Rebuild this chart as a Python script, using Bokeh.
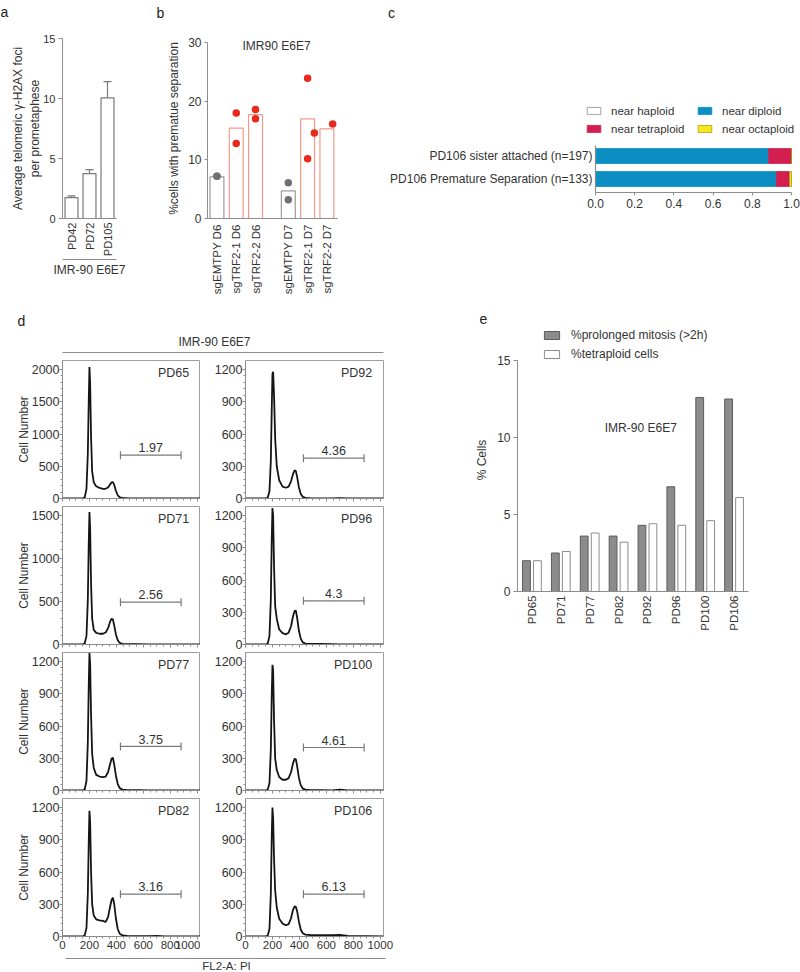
import math
from bokeh.plotting import figure
from bokeh.models import (Range1d, FixedTicker, LinearAxis, Label, Legend, LegendItem,
                          ColumnDataSource, Whisker, TeeHead, PrintfTickFormatter)
from bokeh.layouts import row, column
from bokeh.embed import file_html
from bokeh.resources import INLINE

# ---------------- data ----------------
# panel a
a_labels = ["PD42", "PD72", "PD105"]
a_means = [1.74, 3.74, 10.05]
a_errors = [0.14, 0.33, 1.35]

# panel b
b_labels = ["sgEMTPY D6", "sgTRF2-1 D6", "sgTRF2-2 D6", "sgEMTPY D7", "sgTRF2-1 D7", "sgTRF2-2 D7"]
b_day_group = [0, 0, 0, 1, 1, 1]
b_is_control = [True, False, False, True, False, False]
b_bar_values = [7.1, 15.4, 17.7, 4.7, 17.0, 15.3]
b_rep1 = [7.2, 18.0, 18.6, 6.1, 23.9, 14.6]
b_rep2 = [7.2, 12.8, 17.0, 3.2, 10.2, 16.1]

# panel c
c_categories = ["PD106 sister attached (n=197)", "PD106 Premature Separation (n=133)"]
near_haploid = [0.0, 0.0]
near_diploid = [0.884, 0.923]
near_tetraploid = [0.116, 0.067]
near_octaploid = [0.0, 0.010]

# panel d (flow histograms)
hist_x = [0, 150, 165, 178, 188, 195, 200, 205, 212, 220, 232, 250, 275, 300, 320,
          338, 352, 364, 374, 384, 396, 410, 425, 445, 480, 560, 640, 700, 760, 1024]
pd65_counts = [0, 0, 20, 150, 700, 1550, 2040, 1800, 950, 420, 250, 190, 165, 150, 150,
               170, 215, 250, 255, 210, 120, 50, 18, 8, 4, 3, 2, 2, 1, 0]
pd92_counts = [0, 0, 10, 70, 350, 850, 1160, 1180, 950, 560, 300, 170, 110, 100, 110,
               160, 225, 262, 255, 195, 105, 42, 15, 6, 3, 2, 2, 3, 1, 0]
pd71_counts = [0, 0, 15, 100, 520, 1200, 1540, 1350, 700, 300, 170, 135, 125, 125, 140,
               190, 260, 300, 290, 220, 120, 50, 18, 8, 4, 3, 2, 1, 1, 0]
pd96_counts = [0, 0, 10, 80, 420, 1000, 1270, 1200, 720, 360, 240, 140, 105, 95, 110,
               170, 260, 310, 315, 240, 130, 55, 20, 8, 5, 6, 4, 2, 1, 0]
pd77_counts = [0, 0, 12, 90, 450, 1000, 1280, 1180, 700, 340, 210, 145, 130, 125, 130,
               170, 240, 295, 305, 240, 140, 60, 22, 8, 4, 3, 2, 1, 1, 0]
pd100_counts = [0, 0, 10, 70, 380, 900, 1170, 1120, 650, 300, 190, 125, 100, 100, 115,
                170, 250, 295, 290, 220, 120, 50, 18, 8, 4, 3, 2, 8, 1, 0]
pd82_counts = [0, 0, 12, 80, 400, 900, 1170, 1070, 600, 300, 195, 160, 150, 145, 135,
               180, 270, 340, 360, 300, 170, 70, 25, 10, 6, 4, 3, 6, 1, 0]
pd106_counts = [0, 0, 10, 70, 400, 950, 1200, 1100, 720, 430, 270, 165, 120, 105, 115,
                170, 245, 280, 275, 230, 140, 65, 30, 18, 14, 12, 12, 16, 6, 0]
hist_names = ["PD65", "PD92", "PD71", "PD96", "PD77", "PD100", "PD82", "PD106"]
hist_counts = [pd65_counts, pd92_counts, pd71_counts, pd96_counts,
               pd77_counts, pd100_counts, pd82_counts, pd106_counts]
hist_gate_pct = ["1.97", "4.36", "2.56", "4.3", "3.75", "4.61", "3.16", "6.13"]
hist_y_top_tick = [2000, 1200, 1500, 1200, 1200, 1200, 1200, 1200]
hist_y_step = [500, 300, 500, 300, 300, 300, 300, 300]
gate_bounds = [430, 880]
gate_level = [672, 375, 492, 406, 410, 400, 394, 394]

# panel e
e_labels = ["PD65", "PD71", "PD77", "PD82", "PD92", "PD96", "PD100", "PD106"]
e_prolonged_mitosis = [2.0, 2.5, 3.6, 3.6, 4.3, 6.8, 12.6, 12.5]
e_tetraploid = [2.0, 2.6, 3.8, 3.2, 4.4, 4.3, 4.6, 6.1]

# ---------------- style ----------------
FONT = "Liberation Sans"
TXT = "#333333"
AXC = "#8c8c8c"


def base_fig(**kw):
    p = figure(output_backend="svg", toolbar_location=None, title=None, **kw)
    p.outline_line_color = None
    p.xgrid.visible = False
    p.ygrid.visible = False
    p.background_fill_color = "white"
    p.border_fill_color = "white"
    return p


def style_axis(ax, label_size="12px", tick_out=4):
    ax.axis_line_color = AXC
    ax.axis_line_width = 1
    ax.major_tick_line_color = AXC
    ax.major_tick_in = 0
    ax.major_tick_out = tick_out
    ax.minor_tick_line_color = None
    ax.major_label_text_font = FONT
    ax.major_label_text_font_size = label_size
    ax.major_label_text_color = TXT
    ax.major_label_standoff = 3
    ax.axis_label_text_font = FONT
    ax.axis_label_text_font_size = "12px"
    ax.axis_label_text_font_style = "normal"
    ax.axis_label_text_color = TXT
    ax.axis_label_standoff = 4


def strip(width, height):
    """blank figure in pixel coordinates used for panel letters / group lines"""
    return base_fig(width=width, height=height, x_range=Range1d(0, width),
                    y_range=Range1d(height, 0), x_axis_type=None, y_axis_type=None,
                    min_border=0)


def txt(p, x, y, s, size="12px", align="center", color=TXT):
    p.add_layout(Label(x=x, y=y, text=s, text_font=FONT, text_font_size=size,
                       text_color=color, text_align=align, text_baseline="middle"))


# ---------------- top letters strip ----------------
top_strip = strip(800, 22)
txt(top_strip, 4, 11, "a", size="14px", color="#222222")
txt(top_strip, 160, 12, "b", size="14px", color="#222222")
txt(top_strip, 391, 12, "c", size="14px", color="#222222")

# ---------------- panel a ----------------
a_pos = list(range(len(a_labels)))
fa = base_fig(width=140, height=288, x_range=Range1d(-0.5, 2.5), y_range=Range1d(0, 15),
              min_border_left=62, min_border_right=24, min_border_top=16, min_border_bottom=92)
src_a = ColumnDataSource(dict(x=a_pos, top=a_means,
                              upper=[m + e for m, e in zip(a_means, a_errors)]))
fa.vbar(x="x", top="top", width=0.72, source=src_a, fill_color="white",
        line_color="#7a7a7a", line_width=1.2)
fa.add_layout(Whisker(base="x", lower="top", upper="upper", source=src_a,
                      line_color="#7a7a7a", line_width=1.2,
                      upper_head=TeeHead(size=8, line_color="#7a7a7a", line_width=1.2),
                      lower_head=None))
style_axis(fa.yaxis[0], label_size="11px")
fa.yaxis.ticker = FixedTicker(ticks=[0, 5, 10, 15])
fa.yaxis.axis_label = "Average telomeric γ-H2AX foci\nper prometaphese"
fa.yaxis.axis_label_standoff = -2
style_axis(fa.xaxis[0], label_size="11px", tick_out=0)
fa.xaxis.ticker = FixedTicker(ticks=a_pos)
fa.xaxis.major_label_overrides = {p: l for p, l in zip(a_pos, a_labels)}
fa.xaxis.major_label_orientation = math.pi / 2
fa.xaxis.major_tick_line_color = None
fa.xaxis.major_label_standoff = 4
grp = LinearAxis(ticker=FixedTicker(ticks=[]), bounds=(-0.78, 2.6), axis_label="IMR-90 E6E7")
style_axis(grp, tick_out=0)
grp.major_tick_line_color = None
grp.major_label_text_font_size = "1px"
grp.major_label_text_color = None
grp.major_label_standoff = 0
grp.axis_label_standoff = 3
fa.add_layout(grp, "below")

# ---------------- panel b ----------------
b_pos = [i + 0.7 * g for i, g in enumerate(b_day_group)]
fb = base_fig(width=205, height=288, x_range=Range1d(-0.49, 6.25), y_range=Range1d(0, 30.7),
              min_border_left=67, min_border_right=8, min_border_top=16, min_border_bottom=92)
bar_line = ["#9a9a9a" if c else "#f2998b" for c in b_is_control]
dot_col = ["#707070" if c else "#e8291c" for c in b_is_control]
fb.vbar(x=b_pos, top=b_bar_values, width=0.72, fill_color="white", line_color=bar_line,
        line_width=1.2)
jit1 = [0, 0, 0, 0, 0, -0.65]
jit2 = [0, 0, 0, 0, 0, 0.3]
fb.scatter(x=[p + j for p, j in zip(b_pos, jit1)], y=b_rep1, size=7.5, fill_color=dot_col,
           line_color=None)
fb.scatter(x=[p + j for p, j in zip(b_pos, jit2)], y=b_rep2, size=7.5, fill_color=dot_col,
           line_color=None)
style_axis(fb.yaxis[0], tick_out=3)
fb.yaxis.ticker = FixedTicker(ticks=[0, 10, 20, 30])
fb.yaxis.bounds = (0, 30)
fb.yaxis.axis_label = "%cells with prematue separation"
style_axis(fb.xaxis[0], label_size="11.5px", tick_out=0)
fb.xaxis.ticker = FixedTicker(ticks=b_pos)
fb.xaxis.major_label_overrides = {p: l for p, l in zip(b_pos, b_labels)}
fb.xaxis.major_label_orientation = math.pi / 2
fb.xaxis.major_tick_line_color = None
fb.xaxis.major_label_standoff = 6
txt(fb, 3.09, 29.5, "IMR90 E6E7")

# ---------------- panel c ----------------
c_pos = list(range(len(c_categories)))[::-1]
c_ylo = -0.587
fc = base_fig(width=455, height=288, x_range=Range1d(-0.051, 1.0306),
              y_range=Range1d(c_ylo, 3.63),
              min_border_left=240, min_border_right=3, min_border_top=73, min_border_bottom=118)
src_c = ColumnDataSource(dict(y=c_pos, near_haploid=near_haploid, near_diploid=near_diploid,
                              near_tetraploid=near_tetraploid, near_octaploid=near_octaploid))
stackers = ["near_haploid", "near_diploid", "near_tetraploid", "near_octaploid"]
c_fill = ["#ffffff", "#0b8fc2", "#d21f4f", "#f7e81c"]
c_line = ["#8a8a8a", "#0b8fc2", "#d21f4f", "#a89a10"]
rs = fc.hbar_stack(stackers, y="y", height=0.65, fill_color=c_fill, line_color=c_line,
                   line_width=0.8, source=src_c)
# category axis line drawn at x = 0
fc.segment(x0=[0], y0=[c_ylo], x1=[0], y1=[1.457], line_color=AXC, line_width=1.2)
style_axis(fc.yaxis[0], tick_out=0)
fc.yaxis.axis_line_color = None
fc.yaxis.major_tick_line_color = None
fc.yaxis.ticker = FixedTicker(ticks=c_pos)
fc.yaxis.major_label_overrides = {p: l for p, l in zip(c_pos, c_categories)}
fc.yaxis.major_label_standoff = -7
style_axis(fc.xaxis[0], tick_out=3)
fc.xaxis.bounds = (0, 1)
fc.xaxis.ticker = FixedTicker(ticks=[0, 0.2, 0.4, 0.6, 0.8, 1.0])
fc.xaxis.formatter = PrintfTickFormatter(format="%.1f")


def mk_legend(items, loc, gw, gh, standoff, spacing, size="12px"):
    return Legend(items=items, location=loc, orientation="vertical", glyph_width=gw,
                  glyph_height=gh, label_standoff=standoff, spacing=spacing, padding=0,
                  margin=0, border_line_color=None, background_fill_alpha=0,
                  label_text_font=FONT, label_text_font_size=size, label_text_color=TXT,
                  label_height=13)


fc.add_layout(mk_legend([LegendItem(label="near haploid", renderers=[rs[0]]),
                         LegendItem(label="near tetraploid", renderers=[rs[2]])],
                        (0, 57), 17, 9, 9, 5, "11.5px"))
fc.add_layout(mk_legend([LegendItem(label="near diploid", renderers=[rs[1]]),
                         LegendItem(label="near octaploid", renderers=[rs[3]])],
                        (111, 57), 17, 9, 9, 5, "11.5px"))

# ---------------- panel d ----------------
fdh = strip(395, 50)
fdh.segment(x0=[62], y0=[42], x1=[383], y1=[42], line_color=AXC, line_width=1)
txt(fdh, 21, 10, "d", size="14px", color="#222222")
txt(fdh, 214, 31, "IMR-90 E6E7")

major_x = [0, 200, 400, 600, 800, 1000]
minor_x = [v for v in range(50, 1001, 50) if v not in major_x]
hist_figs = []
for i, name in enumerate(hist_names):
    col, rw = i % 2, i // 2
    left = col == 0
    last = rw == 3
    ytop = hist_y_top_tick[i] * 1.07
    f = base_fig(width=200 if left else 195, height=138 + (19 if last else 8),
                 x_range=Range1d(0, 1024), y_range=Range1d(0, ytop),
                 min_border_left=62 if left else 45, min_border_right=0 if left else 12,
                 min_border_top=0, min_border_bottom=19 if last else 8)
    f.outline_line_color = "#a0a0a0"
    f.outline_line_width = 1
    f.line(hist_x, hist_counts[i], line_color="#151515", line_width=1.8)
    g = gate_level[i]
    d = ytop * 4 / 138
    f.segment(x0=[gate_bounds[0]], y0=[g], x1=[gate_bounds[1]], y1=[g],
              line_color="#7a7a7a", line_width=1.2)
    f.segment(x0=gate_bounds, y0=[g - d, g - d], x1=gate_bounds, y1=[g + d, g + d],
              line_color="#7a7a7a", line_width=1.2)
    f.add_layout(Label(x=sum(gate_bounds) / 2, y=g + ytop * 0.02, text=hist_gate_pct[i],
                       text_font=FONT, text_font_size="12.5px", text_color=TXT,
                       text_align="center", text_baseline="bottom"))
    f.add_layout(Label(x=940, y=ytop * 0.91, text=name, text_font=FONT,
                       text_font_size="12.5px", text_color=TXT, text_align="right",
                       text_baseline="middle"))
    step = hist_y_step[i]
    top_tick = hist_y_top_tick[i]
    style_axis(f.yaxis[0], label_size="12.5px", tick_out=3)
    f.yaxis.ticker = FixedTicker(ticks=list(range(0, top_tick + 1, step)),
                                 minor_ticks=[v / 5 for v in range(0, 5 * top_tick + 1, step)])
    f.yaxis.minor_tick_line_color = AXC
    f.yaxis.minor_tick_out = 2
    f.yaxis.minor_tick_in = 0
    f.yaxis.major_label_standoff = 0
    if left:
        f.yaxis.axis_label = "Cell Number"
        f.yaxis.axis_label_standoff = -2
    style_axis(f.xaxis[0], label_size="11.5px", tick_out=3)
    f.xaxis.ticker = FixedTicker(ticks=major_x, minor_ticks=minor_x)
    f.xaxis.minor_tick_line_color = AXC
    f.xaxis.minor_tick_out = 2
    f.xaxis.minor_tick_in = 0
    if last:
        f.xaxis.major_label_standoff = 1
    else:
        f.xaxis.major_label_text_font_size = "1px"
        f.xaxis.major_label_text_color = None
        f.xaxis.major_label_standoff = 0
    hist_figs.append(f)

fdf = strip(395, 16)
fdf.segment(x0=[65], y0=[3], x1=[385], y1=[3], line_color=AXC, line_width=1)
txt(fdf, 226, 10, "FL2-A: PI", size="11.5px")

# ---------------- panel e ----------------
e_strip = strip(405, 18)
txt(e_strip, 88, 8, "e", size="14px", color="#222222")

e_pos = list(range(len(e_labels)))
fe = base_fig(width=405, height=308, x_range=Range1d(-0.5, 7.5), y_range=Range1d(0, 17.08),
              min_border_left=122, min_border_right=52, min_border_top=0, min_border_bottom=45)
r_m = fe.vbar(x=[p - 0.19 for p in e_pos], top=e_prolonged_mitosis, width=0.27,
              fill_color="#8c8c8c", line_color="#5c5c5c", line_width=1)
r_t = fe.vbar(x=[p + 0.19 for p in e_pos], top=e_tetraploid, width=0.27,
              fill_color="white", line_color="#8c8c8c", line_width=1)
style_axis(fe.yaxis[0], tick_out=4)
fe.yaxis.ticker = FixedTicker(ticks=[0, 5, 10, 15])
fe.yaxis.bounds = (0, 15)
fe.yaxis.axis_label = "% Cells"
fe.yaxis.axis_label_standoff = 5
style_axis(fe.xaxis[0], label_size="11.5px", tick_out=0)
fe.xaxis.ticker = FixedTicker(ticks=e_pos)
fe.xaxis.major_label_overrides = {p: l for p, l in zip(e_pos, e_labels)}
fe.xaxis.major_label_orientation = math.pi / 2
fe.xaxis.major_tick_line_color = None
fe.xaxis.major_label_standoff = 4
fe.add_layout(mk_legend([LegendItem(label="%prolonged mitosis (>2h)", renderers=[r_m]),
                         LegendItem(label="%tetraploid cells", renderers=[r_t])],
                        (25, 230), 19, 10, 10, 5))
txt(fe, 3.77, 10.6, "IMR-90 E6E7")

# ---------------- layout ----------------
hist_rows = [row(hist_figs[2 * k], hist_figs[2 * k + 1]) for k in range(4)]
d_col = column(fdh, *hist_rows, fdf)
e_col = column(column(e_strip), column(fe))
top_row = row(column(fa), column(fb), column(fc))
root = column(top_strip, top_row, row(d_col, e_col))

open("out.html", "w").write(file_html(root, INLINE))
